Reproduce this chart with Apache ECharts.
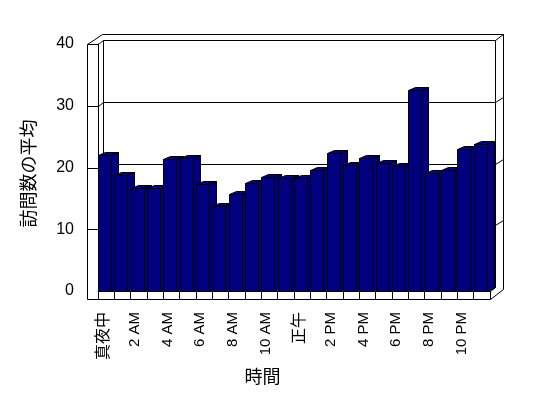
<!DOCTYPE html>
<html><head><meta charset="utf-8">
<script src="https://cdn.jsdelivr.net/npm/echarts@6/dist/echarts.min.js"></script>
<style>html,body{margin:0;padding:0;background:#fff}#c{width:548px;height:398px}</style>
</head><body><div id="c"></div>
<script>
const hours = ['真夜中','1 AM','2 AM','3 AM','4 AM','5 AM','6 AM','7 AM','8 AM','9 AM','10 AM','11 AM',
               '正午','1 PM','2 PM','3 PM','4 PM','5 PM','6 PM','7 PM','8 PM','9 PM','10 PM','11 PM'];
const visits = [22.0,18.8,16.6,16.6,21.3,21.5,17.3,13.8,15.7,17.5,18.4,18.3,
                18.3,19.6,22.3,20.4,21.5,20.7,20.3,32.6,19.1,19.6,23.0,23.8];
const yTicks = [0,10,20,30,40];
const yTitle = '訪問数の平均';
const xTitle = '時間';

const NAVY = '#000080';
const BACK = [5, -4];      // back wall offset
const OUTER = [13, -10];   // outer frame depth
const WALL = 11, FLOOR = 8;
const BAR_D = [7, -3];
const px = v => Math.round(v) + 0.5;

const chart = echarts.init(document.getElementById('c'));

function frameItem(params, api) {
  const cs = params.coordSys;
  const L = cs.x, R = cs.x + cs.width, T = cs.y, B = cs.y + cs.height;
  const st = {fill: 'none', stroke: '#000', lineWidth: 1};
  const ch = [];
  const line = (x1,y1,x2,y2) => ch.push({type:'line', shape:{x1:px(x1),y1:px(y1),x2:px(x2),y2:px(y2)}, style:st});
  // outer silhouette
  ch.push({type:'polygon', shape:{points:[
    [px(L-WALL), px(B+FLOOR)], [px(L-WALL), px(T)], [px(L-WALL+OUTER[0]+2), px(T+OUTER[1])],
    [px(R+OUTER[0]), px(T+OUTER[1])], [px(R+OUTER[0]), px(B+FLOOR+OUTER[1])], [px(R), px(B+FLOOR)]
  ]}, style:{fill:'#fff', stroke:'#000', lineWidth:1}});
  // back wall face
  ch.push({type:'rect', shape:{x:px(L+BACK[0]), y:px(T+BACK[1]), width:Math.round(R-L), height:Math.round(B-T)},
    style:{fill:'#fff', stroke:'#000', lineWidth:1}});
  // top-right corner diagonal
  line(R+BACK[0], T+BACK[1], R+OUTER[0], T+OUTER[1]);
  // left wall inner top diagonal
  line(L, T, L+BACK[0], T+BACK[1]);
  // floor right
  line(R, B, R+BACK[0], B+BACK[1]);
  line(R, B, R, B+FLOOR);
  // gridlines
  yTicks.forEach(v => {
    const y = api.coord([0, v])[1];
    if (v > 0 && v < 40) {
      line(L+BACK[0], y+BACK[1], R+BACK[0], y+BACK[1]);
      line(L, y, L+BACK[0], y+BACK[1]);
      line(R+BACK[0], y+BACK[1], R+OUTER[0], y+BACK[1]-5);
    }
    if (v > 0) line(L-WALL, y, L, y);
  });
  return {type:'group', children: ch};
}

function barItem(params, api) {
  const i = api.value(0), v = api.value(1);
  const p = api.coord([i, v]), p0 = api.coord([i, 0]);
  const band = api.size([1, 0])[0];
  const x0 = px(p[0] - band/2), w = Math.round(band*0.82);
  const y0 = px(p[1]), yb = px(p0[1]);
  const dx = BAR_D[0], dy = BAR_D[1];
  const st = {fill: NAVY, stroke: '#000', lineWidth: 1};
  return {type:'group', children:[
    {type:'polygon', shape:{points:[[x0+w,y0],[x0+w+dx,y0+dy],[x0+w+dx,yb+dy],[x0+w,yb]]}, style:st},
    {type:'polygon', shape:{points:[[x0,y0],[x0+dx,y0+dy],[x0+w+dx,y0+dy],[x0+w,y0]]}, style:st},
    {type:'rect', shape:{x:x0, y:y0, width:w, height:yb-y0}, style:st}
  ]};
}

chart.setOption({
  animation: false,
  backgroundColor: '#fff',
  grid: {left: 98, right: 58, top: 44, bottom: 107, containLabel: false},
  xAxis: {
    type: 'category', data: hours, z: 5,
    axisLine: {show: true, lineStyle: {color: '#000', width: 1}},
    axisTick: {show: true, interval: 0, length: 8, lineStyle: {color: '#000'}},
    axisLabel: {
      interval: 1, rotate: 90, margin: 21, color: '#000', padding: [0,0,8,0],
      formatter: v => /[^\x00-\x7F]/.test(v) ? '{c|' + v + '}' : '{a|' + v + '}',
      rich: {
        a: {fontSize: 15, fontFamily: 'Liberation Sans', color: '#000'},
        c: {fontSize: 16, fontFamily: 'Noto Sans CJK JP', color: '#000'}
      }
    },
    splitLine: {show: false}
  },
  yAxis: {
    type: 'value', min: yTicks[0], max: yTicks[yTicks.length-1], interval: 10, z: 5,
    axisLine: {show: true, lineStyle: {color: '#000', width: 1}},
    axisTick: {show: false},
    axisLabel: {margin: 24, fontSize: 16, fontFamily: 'Liberation Sans', color: '#000'},
    splitLine: {show: false}
  },
  graphic: [
    {type:'text', x: 28, y: 173.5, rotation: Math.PI/2,
     style:{text: yTitle, fontSize: 18, fontFamily: 'Noto Sans CJK JP', fill:'#000', align:'center', verticalAlign:'middle'}},
    {type:'text', x: 262.5, y: 376,
     style:{text: xTitle, fontSize: 18, fontFamily: 'Noto Sans CJK JP', fill:'#000', align:'center', verticalAlign:'middle'}}
  ],
  series: [
    {type:'custom', z: 1, silent: true, renderItem: frameItem, data: [[0, 0]], encode:{x:0, y:1}},
    {type:'custom', z: 2, renderItem: barItem, data: visits.map((v, i) => [i, v]), encode:{x:0, y:1}}
  ]
});
</script></body></html>
